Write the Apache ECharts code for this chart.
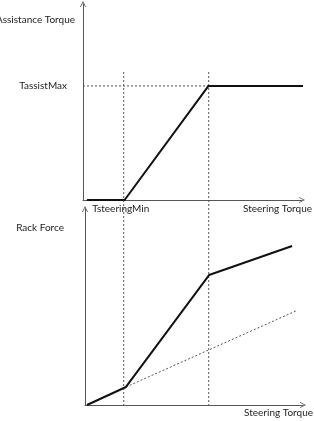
<!DOCTYPE html>
<html>
<head>
<meta charset="utf-8">
<script src="https://cdn.jsdelivr.net/npm/echarts@6/dist/echarts.min.js"></script>
<style>
  html, body { margin: 0; padding: 0; background: #fff; }
  #chart { width: 314px; height: 421px; }
</style>
</head>
<body>
<div id="chart"></div>
<script>
  // top curve: assistance torque vs steering torque
  var assistX = [1.8, 19, 57.3, 101.4];
  var assistY = [0, 0, 58.2, 58.2];
  // bottom curve: rack force vs steering torque
  var rackX = [0.9, 18.8, 56.9, 95];
  var rackY = [0, 9.2, 66.3, 81.1];
  // dashed reference line (no assist)
  var rackRefX = [18.8, 96.8];
  var rackRefY = [9.2, 48];
  // guide positions (top grid units)
  var tSteeringMin = 18.6;
  var tKnee = 57.4;
  var tAssistMax = 58.2;
  var guideTop = 65.3;
  var guideBottom = -104.6;

  function pairs(xs, ys) {
    return xs.map(function (x, i) { return [x, ys[i]]; });
  }

  var font = 'Lato, "Open Sans", sans-serif';
  var fs = 10;
  var txt = '#222';
  var arrow = 'path://M0,10 L5,0 L10,10 L8.6,10 L5,2.8 L1.4,10 Z';
  var axisLine = {
    show: true,
    symbol: ['none', arrow],
    symbolSize: [7, 6],
    lineStyle: { color: '#555', width: 1 }
  };
  var dash = { color: '#555', width: 1, type: [2, 2] };

  var chart = echarts.init(document.getElementById('chart'));
  chart.setOption({
    animation: false,
    grid: [
      { left: 83, top: 4, width: 219, height: 196, outerBoundsMode: 'none', containLabel: false },
      { left: 85, top: 209, width: 218, height: 196, outerBoundsMode: 'none', containLabel: false }
    ],
    xAxis: [
      {
        gridIndex: 0, type: 'value', min: 0, max: 100,
        axisLine: axisLine, axisTick: { show: false }, splitLine: { show: false },
        axisLabel: {
          customValues: [tSteeringMin], formatter: function () { return 'TsteeringMin'; },
          margin: 4, color: txt, fontSize: fs, fontFamily: font, padding: [0, 6, 0, 0]
        },
        name: 'Steering Torque', nameLocation: 'end', nameGap: 10,
        nameTextStyle: { align: 'right', verticalAlign: 'top', padding: [4, 0, 0, 0], color: txt, fontSize: fs, fontFamily: font }
      },
      {
        gridIndex: 1, type: 'value', min: 0, max: 100,
        axisLine: axisLine, axisTick: { show: false }, splitLine: { show: false },
        axisLabel: { show: false },
        name: 'Steering Torque', nameLocation: 'end', nameGap: 10,
        nameTextStyle: { align: 'right', verticalAlign: 'top', padding: [3, 0, 0, 0], color: txt, fontSize: fs, fontFamily: font }
      }
    ],
    yAxis: [
      {
        gridIndex: 0, type: 'value', min: 0, max: 100,
        axisLine: axisLine, axisTick: { show: false }, splitLine: { show: false },
        axisLabel: {
          customValues: [tAssistMax], formatter: function () { return 'TassistMax'; },
          margin: 16, color: txt, fontSize: fs, fontFamily: font
        },
        name: 'Assistance Torque', nameLocation: 'end', nameGap: -16,
        nameTextStyle: { align: 'right', verticalAlign: 'middle', padding: [0, 8, 0, 0], color: txt, fontSize: fs, fontFamily: font }
      },
      {
        gridIndex: 1, type: 'value', min: 0, max: 100,
        axisLine: axisLine, axisTick: { show: false }, splitLine: { show: false },
        axisLabel: { show: false },
        name: 'Rack Force', nameLocation: 'end', nameGap: -19,
        nameTextStyle: { align: 'right', verticalAlign: 'middle', padding: [0, 21, 0, 0], color: txt, fontSize: fs, fontFamily: font }
      }
    ],
    series: [
      {
        type: 'line', xAxisIndex: 0, yAxisIndex: 0, symbol: 'none', clip: false,
        data: [[0, tAssistMax], [tKnee, tAssistMax]], lineStyle: dash
      },
      {
        type: 'line', xAxisIndex: 0, yAxisIndex: 0, symbol: 'none', clip: false,
        data: [[tSteeringMin, guideTop], [tSteeringMin, guideBottom]], lineStyle: dash
      },
      {
        type: 'line', xAxisIndex: 0, yAxisIndex: 0, symbol: 'none', clip: false,
        data: [[tKnee, guideTop], [tKnee, guideBottom]], lineStyle: dash
      },
      {
        type: 'line', xAxisIndex: 0, yAxisIndex: 0, symbol: 'none', clip: false,
        data: pairs(assistX, assistY), lineStyle: { color: '#111', width: 2 }
      },
      {
        type: 'line', xAxisIndex: 1, yAxisIndex: 1, symbol: 'none', clip: false,
        data: pairs(rackRefX, rackRefY), lineStyle: dash
      },
      {
        type: 'line', xAxisIndex: 1, yAxisIndex: 1, symbol: 'none', clip: false,
        data: pairs(rackX, rackY), lineStyle: { color: '#111', width: 2 }
      }
    ]
  });
</script>
</body>
</html>
